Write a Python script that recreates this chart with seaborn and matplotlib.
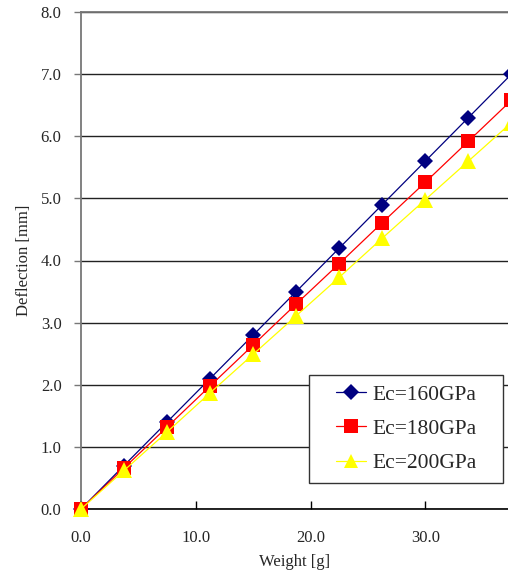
import matplotlib
matplotlib.use("Agg")
import matplotlib.pyplot as plt
from matplotlib.patches import Rectangle
import seaborn as sns
import pandas as pd

weight = [0.0, 3.75, 7.5, 11.25, 15.0, 18.75, 22.5, 26.25, 30.0, 33.75, 37.5]
ec160 = [0.0, 0.70, 1.40, 2.10, 2.80, 3.50, 4.20, 4.90, 5.60, 6.30, 7.00]
ec180 = [0.0, 0.66, 1.32, 1.98, 2.64, 3.30, 3.95, 4.61, 5.26, 5.92, 6.58]
ec200 = [0.0, 0.62, 1.24, 1.87, 2.49, 3.11, 3.73, 4.36, 4.98, 5.60, 6.22]
labels = ["Ec=160GPa", "Ec=180GPa", "Ec=200GPa"]
xticks = [0.0, 10.0, 20.0, 30.0]
yticks = [0, 1, 2, 3, 4, 5, 6, 7, 8]

sns.set_theme(style="white")
plt.rcParams["font.family"] = ["Liberation Serif", "DejaVu Serif"]

fig = plt.figure(figsize=(5.08, 5.74), dpi=100)
ax = fig.add_axes([81/508, 1-509/574, 1-81/508, (509-12)/574])

series = [ec160, ec180, ec200]
colors = ["#000080", "#FF0000", "#FFFF00"]
markers = ["D", "s", "^"]
msizes = [8.5, 10, 11]
for vals, lab, c, m, ms in zip(series, labels, colors, markers, msizes):
    df = pd.DataFrame({"Weight": weight, "Deflection": vals})
    sns.lineplot(data=df, x="Weight", y="Deflection", ax=ax, color=c, marker=m,
                 markersize=ms, markeredgewidth=0, linewidth=0.9, label=lab,
                 clip_on=False, zorder=3)

ax.set_xlim(0, 37.2)
ax.set_ylim(0, 8)
ax.set_xticks(xticks)
ax.set_xticklabels([f"{v:.1f}" for v in xticks])
ax.set_yticks(yticks)
ax.set_yticklabels([f"{v:.1f}" for v in yticks])
ax.yaxis.grid(True, color="#222222", linewidth=1.0)
ax.xaxis.grid(False)
ax.set_axisbelow(True)

for s in ["left", "top"]:
    ax.spines[s].set_color("#777777")
    ax.spines[s].set_linewidth(1.3)
ax.spines["bottom"].set_color("black")
ax.spines["bottom"].set_linewidth(1.2)
ax.spines["right"].set_visible(False)

ax.tick_params(axis="x", direction="in", length=6, width=1, color="black",
               labelsize=12, pad=15, bottom=True)
ax.tick_params(axis="y", direction="out", length=5, width=1, color="#777777",
               labelsize=12, pad=9, left=True)
ax.set_xlabel("Weight [g]", fontsize=12, labelpad=6)
ax.set_ylabel("Deflection [mm]", fontsize=12, labelpad=6)

rect = Rectangle((0.534, 0.052), 0.454, 0.217, transform=ax.transAxes,
                 facecolor="white", edgecolor="#333333", linewidth=1.0,
                 zorder=5, clip_on=False)
ax.add_patch(rect)
leg = ax.legend(loc="center", bbox_to_anchor=(0.761, 0.161), borderaxespad=0,
                fontsize=15.5, frameon=False, handlelength=1.4,
                labelspacing=0.66, borderpad=0.3, handletextpad=0.3)
leg.set_zorder(6)
for h in leg.legend_handles:
    h.set_markeredgewidth(0)
    h.set_markersize(h.get_markersize() * 0.95)

fig.savefig("out.png", dpi=100)
